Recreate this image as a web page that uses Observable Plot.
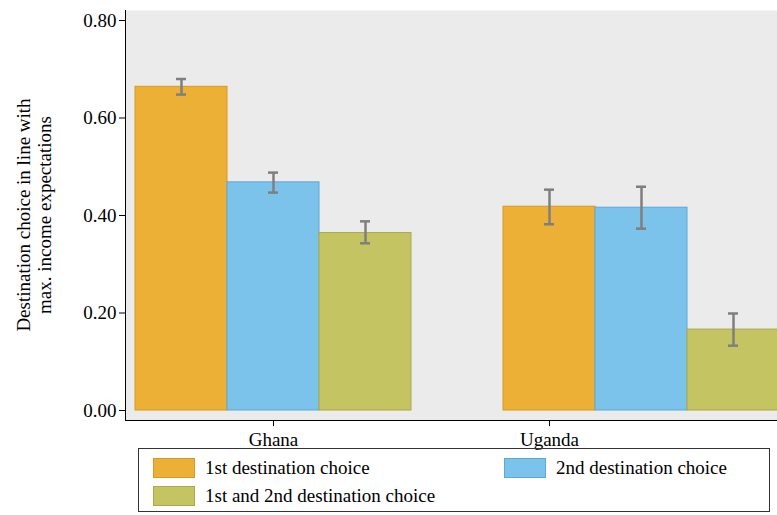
<!DOCTYPE html>
<html><head><meta charset="utf-8">
<script src="https://cdn.jsdelivr.net/npm/d3@7"></script>
<script src="https://cdn.jsdelivr.net/npm/@observablehq/plot@0.6"></script>
<style>
body{margin:0;background:#fff;font-family:"Liberation Serif",serif;}
svg text{font-family:"Liberation Serif",serif !important;}
#legend{position:absolute;left:138px;top:448px;width:632px;height:64px;border:1px solid #333;box-sizing:border-box;font-size:19px;}
.it{position:absolute;display:flex;align-items:center;gap:10px;}
.sw{width:40px;height:18px;}
</style></head><body>
<div id="chart"></div>
<div id="legend"></div>
<script>
const countries = ["Ghana", "Uganda"];
const series = ["1st destination choice", "2nd destination choice", "1st and 2nd destination choice"];
const colors = ["#ebb035", "#7cc3ec", "#c5c462"];
const strokes = ["#d89a20", "#5aa9d8", "#aaa94a"];
const means = [[0.664, 0.468, 0.364], [0.418, 0.416, 0.166]];
const lows = [[0.648, 0.447, 0.343], [0.382, 0.373, 0.133]];
const highs = [[0.680, 0.488, 0.388], [0.453, 0.459, 0.199]];

const data = [];
countries.forEach((c, i) => series.forEach((s, j) => data.push({
  slot: i * 4 + j, s: j, v: means[i][j], lo: lows[i][j], hi: highs[i][j]
})));
const labels = [{ slot: 1, t: "Ghana" }, { slot: 4, t: "Uganda" }];

const chart = Plot.plot({
  width: 777, height: 450,
  marginLeft: 125, marginTop: 10, marginBottom: 30, marginRight: 0,
  style: { fontFamily: "Liberation Serif, serif", fontSize: "18px", color: "#000", overflow: "visible" },
  x: { type: "band", domain: d3.range(7), range: [135, 779], padding: 0, axis: null },
  y: { domain: [-0.0205, 0.8205], label: null, axis: null },
  marks: [
    Plot.frame({ fill: "#ebebeb" }),
    Plot.barY(data, { x: "slot", y1: 0, y2: "v", fill: d => colors[d.s], stroke: d => strokes[d.s], strokeWidth: 1 }),
    Plot.ruleX(data, { x: "slot", y1: "lo", y2: "hi", stroke: "#7f7f7f", strokeWidth: 2.5 }),
    Plot.tickY(data, { x: "slot", y: "lo", stroke: "#7f7f7f", strokeWidth: 2.5, insetLeft: 41, insetRight: 41 }),
    Plot.tickY(data, { x: "slot", y: "hi", stroke: "#7f7f7f", strokeWidth: 2.5, insetLeft: 41, insetRight: 41 }),
    Plot.frame({ anchor: "left", stroke: "#000" }),
    Plot.frame({ anchor: "bottom", stroke: "#000" }),
    Plot.axisY({ ticks: [0, 0.2, 0.4, 0.6, 0.8], tickFormat: ".2f", tickSize: 6, fontSize: 19, label: null }),
    Plot.ruleX(labels, { x: "slot", y1: -0.0205, y2: -0.033, stroke: "#000", clip: false }),
    Plot.text(labels, { x: "slot", y: -0.0205, text: "t", dy: 19, fontSize: 19, clip: false })
  ]
});
document.getElementById("chart").append(chart);

const svg = d3.select(chart);
const lab = svg.append("text").attr("transform", "translate(30,215) rotate(-90)")
  .attr("text-anchor", "middle").style("font-size", "19px");
lab.append("tspan").attr("x", 0).attr("dy", 0).text("Destination choice in line with");
lab.append("tspan").attr("x", 0).attr("dy", 21).text("max. income expectations");

const pos = [[14, 8], [365, 8], [14, 36]];
const lg = document.getElementById("legend");
series.forEach((s, j) => {
  const el = document.createElement("div");
  el.className = "it";
  el.style.left = pos[j][0] + "px"; el.style.top = pos[j][1] + "px";
  el.innerHTML = `<div class="sw" style="background:${colors[j]};border:1px solid ${strokes[j]}"></div><span>${s}</span>`;
  lg.append(el);
});
</script>
</body></html>
